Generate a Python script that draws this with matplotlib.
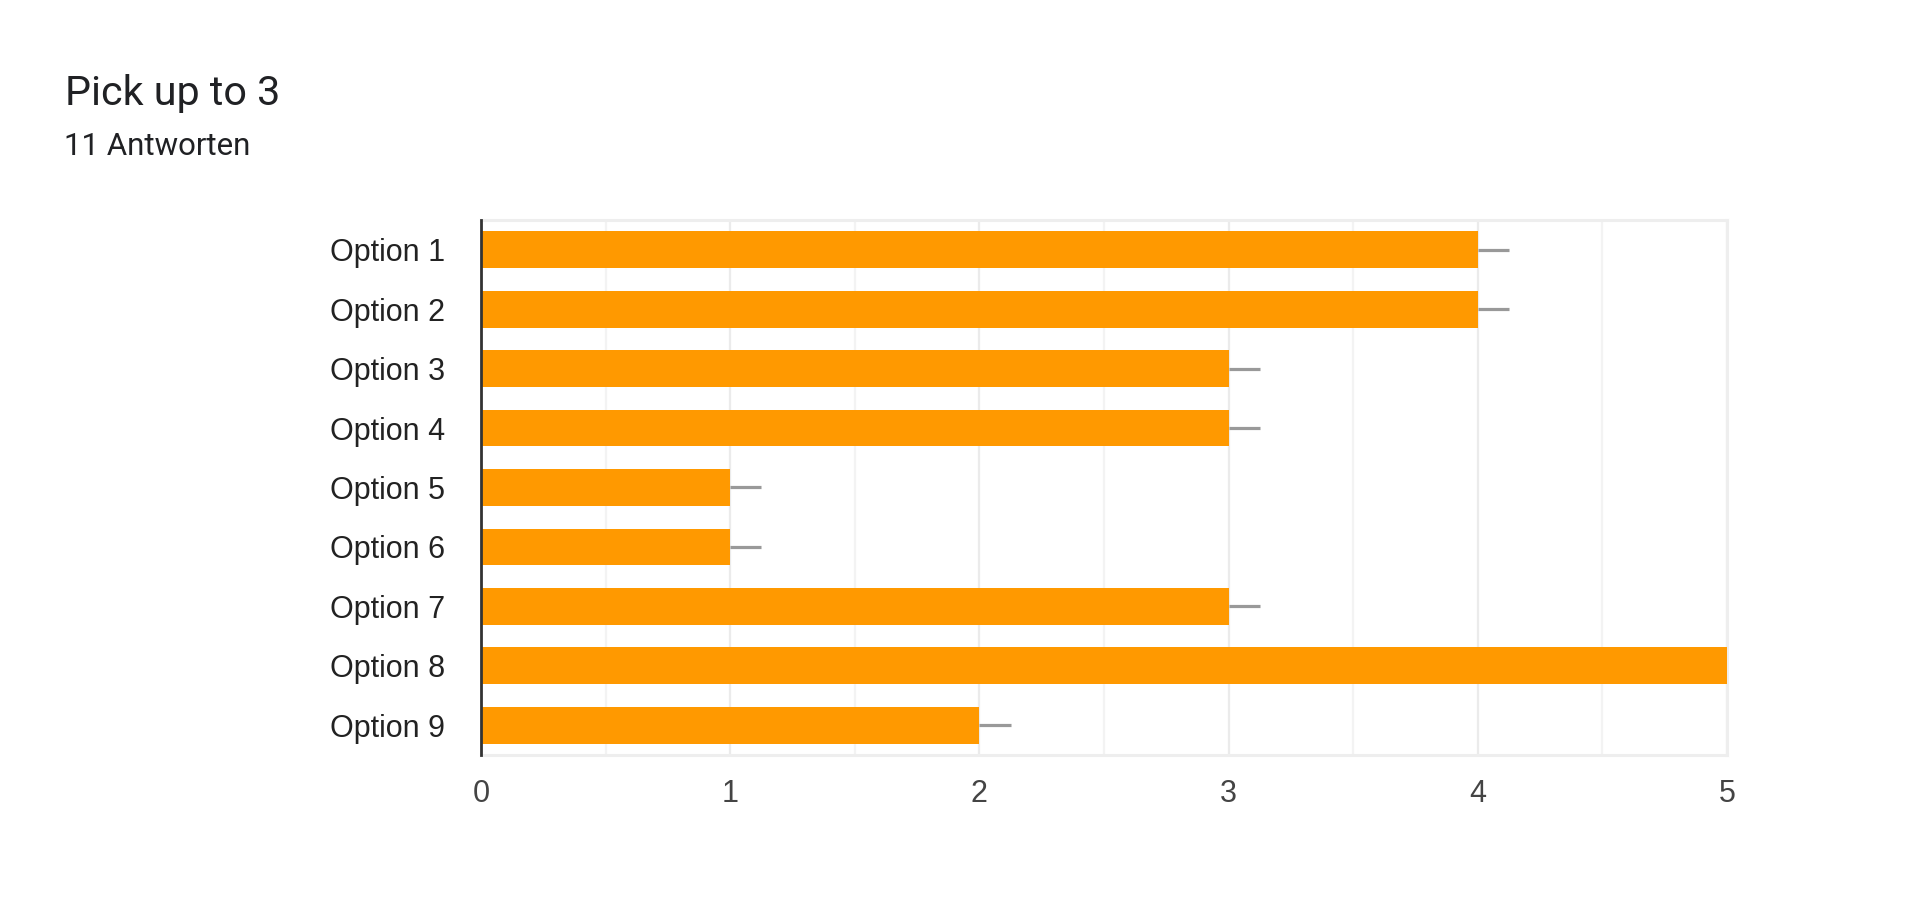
import matplotlib
matplotlib.use("Agg")
import matplotlib.pyplot as plt
from matplotlib.ticker import MultipleLocator

categories = ["Option 1", "Option 2", "Option 3", "Option 4", "Option 5",
              "Option 6", "Option 7", "Option 8", "Option 9"]
values = [4, 4, 3, 3, 1, 1, 3, 5, 2]
err_plus = [0.125] * 9
xticks = [0, 1, 2, 3, 4, 5]
title = "Pick up to 3"
subtitle = "11 Antworten"

W, H = 1920, 913
fig = plt.figure(figsize=(W / 100, H / 100), dpi=100)
fig.patch.set_facecolor("white")

L, R, T, B = 481, 1727, 220, 755
ax = fig.add_axes([L / W, 1 - B / H, (R - L) / W, (B - T) / H])

ypos = list(range(len(categories)))
ax.barh(ypos, values, height=0.62, color="#ff9900", zorder=3)
ax.hlines(ypos, values, [v + e for v, e in zip(values, err_plus)],
          colors="#999999", linewidth=2.3, zorder=4)

ax.set_xlim(0, 5)
ax.set_ylim(len(categories) - 0.5, -0.5)
ax.set_xticks(xticks)
ax.xaxis.set_minor_locator(MultipleLocator(0.5))
ax.grid(axis="x", which="major", color="#ebebeb", linewidth=1.6, zorder=0)
ax.grid(axis="x", which="minor", color="#f3f3f3", linewidth=1.6, zorder=0)
ax.set_axisbelow(True)

ax.set_yticks(ypos)
ax.set_yticklabels(categories, fontsize=22, color="#222222",
                   family=["Liberation Sans", "DejaVu Sans"])
ax.set_xticklabels([str(t) for t in xticks], fontsize=22, color="#444444",
                   family=["Liberation Sans", "DejaVu Sans"])
ax.tick_params(axis="y", length=0, pad=26)
ax.tick_params(axis="x", which="both", length=0, pad=17)

for s in ["top", "right", "bottom"]:
    ax.spines[s].set_color("#eeeeee")
    ax.spines[s].set_linewidth(2.2)
ax.spines["left"].set_color("#333333")
ax.spines["left"].set_linewidth(2.0)
ax.spines["left"].set_zorder(5)

fig.text(65 / W, 1 - 105 / H, title, fontsize=29.7, color="#202124",
         family=["Roboto", "DejaVu Sans"], va="baseline", ha="left")
fig.text(64 / W, 1 - 155 / H, subtitle, fontsize=22.5, color="#202124",
         family=["Roboto", "DejaVu Sans"], va="baseline", ha="left")

fig.savefig("out.png", dpi=100, facecolor="white")
